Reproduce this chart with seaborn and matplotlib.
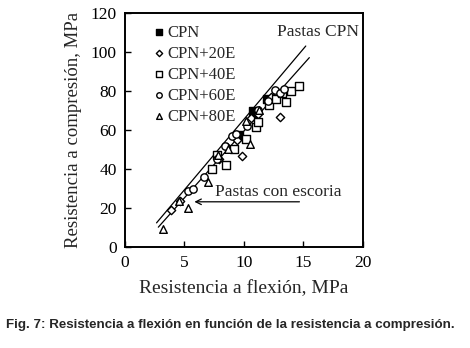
import numpy as np
import pandas as pd
import matplotlib
matplotlib.use("Agg")
import matplotlib.pyplot as plt
import seaborn as sns

sns.set_style("ticks")
plt.rcParams['font.family'] = ['Liberation Serif', 'DejaVu Serif']

# datos (flexion, compresion)
cpn_x = [9.6, 10.8, 11.9, 10.9]
cpn_y = [57.6, 69.5, 75.8, 68.5]
e20_x = [3.9, 4.6, 7.9, 8.6, 9.4, 9.85, 10.6, 11.2, 12.3, 13.0, 13.3, 12.8]
e20_y = [19.2, 23.5, 45.0, 51.5, 55.0, 46.5, 66.0, 68.0, 77.0, 66.6, 80.0, 78.0]
e40_x = [7.3, 7.7, 8.5, 9.2, 10.2, 11.0, 11.2, 12.1, 12.7, 13.5, 14.0, 14.6, 13.2]
e40_y = [40.2, 47.0, 42.0, 50.0, 55.5, 61.4, 64.0, 72.9, 76.0, 74.2, 80.2, 82.5, 79.0]
e60_x = [5.3, 5.7, 6.6, 7.7, 8.4, 9.0, 9.3, 10.3, 11.2, 12.0, 12.6, 13.0, 13.4]
e60_y = [28.8, 29.7, 36.0, 45.0, 52.0, 57.0, 58.0, 62.0, 70.0, 75.0, 80.5, 79.0, 81.0]
e80_x = [3.2, 4.5, 5.3, 7.0, 7.8, 8.7, 10.2, 10.5, 11.3]
e80_y = [9.5, 23.5, 19.8, 33.4, 47.0, 50.0, 64.5, 53.0, 70.3]

series = ['CPN', 'CPN+20E', 'CPN+40E', 'CPN+60E', 'CPN+80E']
xs = [cpn_x, e20_x, e40_x, e60_x, e80_x]
ys = [cpn_y, e20_y, e40_y, e60_y, e80_y]
marcas = ['s', 'D', 's', 'o', '^']
relleno = ['black', 'white', 'white', 'white', 'white']
tamano = [30, 18, 28, 28, 30]

# rectas de ajuste: pendiente, ordenada, rango x
recta_cpn = [7.22, -6.73, 2.65, 15.2]
recta_esc = [6.84, -8.95, 2.8, 15.5]

fig, ax = plt.subplots(figsize=(4.7, 3.48), dpi=100)
fig.subplots_adjust(left=0.266, right=0.772, bottom=0.290, top=0.963)

for r in [recta_cpn, recta_esc]:
    lx = np.array([r[2], r[3]])
    sns.lineplot(x=lx, y=r[0] * lx + r[1], color='black', lw=0.9, ax=ax)

for i, s in enumerate(series):
    df = pd.DataFrame({'x': xs[i], 'y': ys[i]})
    sns.scatterplot(data=df, x='x', y='y', marker=marcas[i], s=tamano[i],
                    facecolor=relleno[i], edgecolor='black', linewidth=1.0,
                    label=s, ax=ax, zorder=3)

ax.set_xlim(0, 20)
ax.set_ylim(0, 120)
ax.set_xticks([0, 5, 10, 15, 20])
ax.set_yticks(range(0, 121, 20))
ax.tick_params(direction='in', length=4, width=1, labelsize=12.5, colors='black', pad=6)
for sp in ax.spines.values():
    sp.set_linewidth(1.4)
    sp.set_color('black')
ax.set_xlabel('Resistencia a flexión, MPa', fontsize=14, labelpad=6)
ax.set_ylabel('Resistencia a compresión, MPa', fontsize=13.5, labelpad=6)

leg = ax.legend(loc='upper left', frameon=False, fontsize=12, handletextpad=0.0,
                labelspacing=0.3, borderaxespad=0.3, handlelength=1.0,
                markerscale=0.75, bbox_to_anchor=(0.06, 1.0))

ax.text(12.8, 110, 'Pastas CPN', fontsize=12.5, va='center')
ax.text(7.6, 28.3, 'Pastas con escoria', fontsize=12.5, va='center')
ax.annotate('', xy=(5.6, 23.2), xytext=(14.9, 23.2),
            arrowprops=dict(arrowstyle='->', color='black', lw=0.9))

fig.text(0.012, 0.066, 'Fig. 7: Resistencia a flexión en función de la resistencia a compresión.',
         family=['Liberation Sans', 'DejaVu Sans'], fontweight='bold', fontsize=9.6,
         va='center')

plt.savefig('out.png', dpi=100)
